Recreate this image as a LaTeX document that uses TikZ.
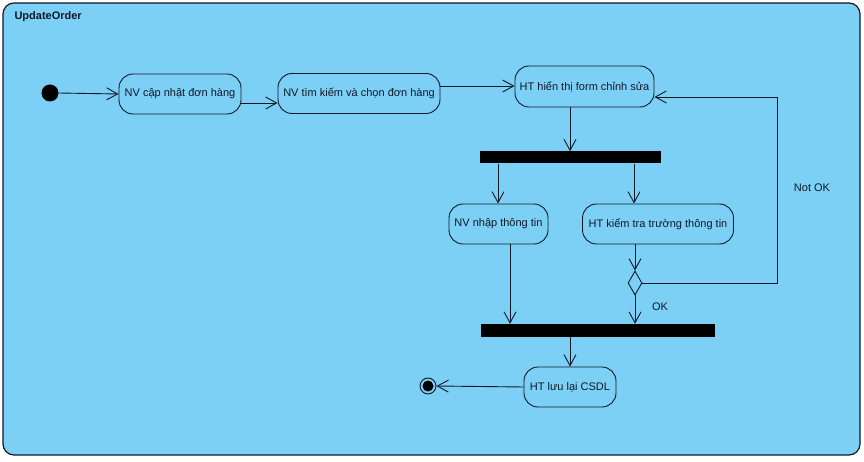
\documentclass[tikz,border=0pt]{standalone}
\usepackage{fontspec}
\setmainfont{Liberation Sans}
\usetikzlibrary{arrows.meta,shapes.geometric}
\definecolor{panel}{RGB}{124,207,245}
\definecolor{ink}{RGB}{18,24,40}
\begin{document}
\begin{tikzpicture}[x=1pt,y=-1pt,
  font=\fontsize{11}{13}\selectfont,
  every node/.style={text=ink},
  action/.style={draw=ink,line width=0.9pt,rounded corners=14pt,
    inner sep=0pt,align=center},
  bar/.style={fill=black,draw=none,inner sep=0pt},
  flow/.style={draw=ink,line width=0.9pt,
    -{Straight Barb[length=11pt,width=12pt,line width=0.9pt]}},
  decision/.style={draw=ink,line width=0.9pt,diamond,inner sep=0pt,
    minimum width=14pt,minimum height=24pt,aspect=0.58}]
\useasboundingbox (0,0) rectangle (864,462);
\fill[white] (0,0) rectangle (864,462);
% activity frame
\draw[fill=panel,draw=ink,line width=1.2pt,rounded corners=11pt]
  (3,3) rectangle (860,455);
\node[anchor=west,font=\fontsize{11}{13}\selectfont\bfseries] (title) at (11,17) {UpdateOrder};

% start / end
\node[circle,fill=black,minimum size=17pt,inner sep=0pt] (start) at (50,93) {};
\node[circle,draw=ink,line width=0.9pt,minimum size=16pt,inner sep=0pt] (stop) at (428,386) {};
\fill[black] (stop.center) circle (5.5pt);

% actions
\node[action,minimum width=122pt,minimum height=40pt] (a1) at (180,94) {NV cập nhật đơn hàng};
\node[action,minimum width=162pt,minimum height=40pt] (a2) at (359,93.5) {NV tìm kiếm và chọn đơn hàng};
\node[action,minimum width=139pt,minimum height=41pt] (a3) at (584.5,86.5) {HT hiển thị form chỉnh sửa};
\node[action,minimum width=99pt,minimum height=40pt] (a4) at (498.5,224) {NV nhập thông tin};
\node[action,minimum width=151pt,minimum height=40pt] (a5) at (658,224) {HT kiểm tra trường thông tin};
\node[action,minimum width=92pt,minimum height=40pt] (a6) at (570,387) {HT lưu lại CSDL};

% fork / join bars
\node[bar,minimum width=181pt,minimum height=12pt] (fork) at (570,157.5) {};
\node[bar,minimum width=234pt,minimum height=13pt] (join) at (598,330.5) {};

% decision
\node[decision] (dec) at (635,283) {};

% loop corner
\coordinate (c1) at (777,283);
\coordinate (c2) at (777,97);

% flows
\draw[flow] (start.east) -- (a1.west);
\draw[flow] (a1.east |- 0,103) -- (a2.west |- 0,103);
\draw[flow] (a2.east |- 0,86) -- (a3.west |- 0,86);
\draw[flow] (a3.south -| 570,0) -- (fork.north -| 570,0);
\draw[flow] (fork.south -| 498,0) -- (a4.north -| 498,0);
\draw[flow] (fork.south -| 634,0) -- (a5.north -| 634,0);
\draw[flow] (a4.south -| 510,0) -- (join.north -| 510,0);
\draw[flow] (a5.south -| dec.north) -- (dec.north);
\draw[flow] (dec.south) -- (join.north -| dec.south);
\draw[flow] (dec.east) -- (c1) -- (c2) -- (a3.east |- c2);
\draw[flow] (join.south -| 570,0) -- (a6.north -| 570,0);
\draw[flow] (a6.west) -- (stop.east);

% guards
\node (ok) at (660,307) {OK};
\node (notok) at (812,188) {Not OK};
\end{tikzpicture}
\end{document}
